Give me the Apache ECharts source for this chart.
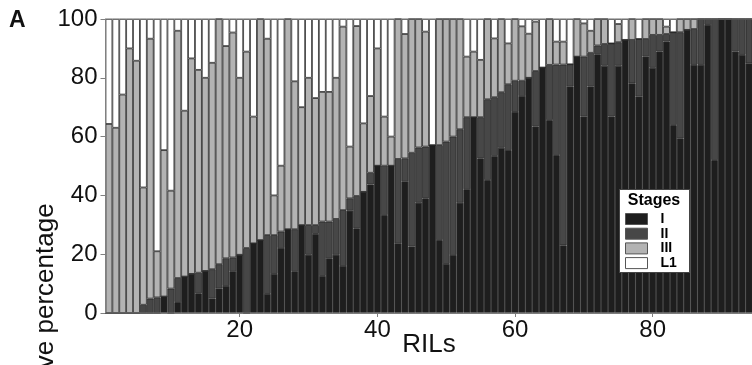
<!DOCTYPE html>
<html>
<head>
<meta charset="utf-8">
<script src="https://cdn.jsdelivr.net/npm/echarts@6/dist/echarts.min.js"></script>
<style>
html,body{margin:0;padding:0;background:#fff;}
#chart{width:752px;height:365px;}
</style>
</head>
<body>
<div id="chart"></div>
<script>
// RIL indices 1..94
const rils = Array.from({length: 94}, (_, i) => String(i + 1));
const xTickLabels = ['20', '40', '60', '80'];
const yTicks = [0, 20, 40, 60, 80, 100];
const stageNames = ['I', 'II', 'III', 'L1'];

const stageI = [
  0, 0, 0, 0, 0, 0, 0, 0, 5.6, 0,
  3.7, 12.4, 13.3, 6.7, 14.3, 4.9, 8.3, 9.2, 14.2, 19.8,
  0, 23.7, 24.8, 6.5, 13.3, 22.1, 28.5, 14.2, 29.9, 19.8,
  26.9, 12.6, 18.6, 19.8, 16.0, 34.8, 28.8, 41.2, 43.7, 50.1,
  33.3, 50.1, 23.7, 44.8, 22.6, 37.5, 39.0, 57.1, 24.8, 16.7,
  19.7, 37.5, 42.1, 66.6, 52.6, 45.2, 53.4, 56.2, 55.4, 68.4,
  73.8, 80.0, 63.4, 83.5, 65.6, 53.7, 23.0, 77.0, 87.2, 66.8,
  77.0, 88.0, 84.1, 66.8, 84.1, 92.9, 78.1, 73.6, 87.2, 83.4,
  88.9, 92.3, 63.9, 59.4, 96.3, 84.4, 84.4, 98.0, 52.0, 100,
  100, 88.9, 87.8, 84.9
];
const stageII = [
  0, 0, 0, 0, 0, 2.8, 4.9, 5.3, 0, 8.3,
  8.2, 0, 0, 7.0, 0, 10.0, 8.3, 9.4, 4.7, 0,
  22.1, 0, 0, 20.0, 13.2, 5.6, 0, 14.3, 0, 10.1,
  3.0, 18.5, 12.5, 12.2, 19.0, 4.2, 11.0, 0, 4.0, 0,
  16.8, 0, 28.7, 7.8, 31.9, 18.8, 17.6, 0, 32.3, 41.6,
  40.3, 25.0, 24.5, 0, 14.0, 27.5, 20.0, 18.9, 22.4, 10.6,
  5.2, 0, 18.9, 0, 18.8, 30.8, 61.5, 7.6, 0, 20.4,
  11.5, 3.0, 7.4, 24.9, 8.0, 0, 14.8, 19.6, 6.0, 11.2,
  5.7, 2.6, 31.6, 36.1, 0, 12.2, 15.6, 2.0, 48.0, 0,
  0, 11.1, 12.2, 15.1
];
const stageIII = [
  64.3, 63.0, 74.3, 90.0, 85.8, 39.9, 88.4, 15.7, 49.8, 33.3,
  84.1, 56.4, 73.3, 69.0, 65.7, 70.2, 83.4, 72.2, 76.5, 60.2,
  66.8, 43.1, 75.2, 66.8, 13.5, 22.4, 71.5, 50.3, 40.1, 50.1,
  43.2, 44.1, 44.1, 48.0, 62.4, 17.6, 57.8, 23.3, 26.1, 39.9,
  16.7, 9.9, 47.6, 42.3, 45.5, 43.7, 39.1, 0, 42.9, 41.7,
  40.0, 37.5, 20.6, 22.3, 19.5, 27.3, 20.0, 24.9, 13.9, 21.0,
  18.5, 15.0, 16.8, 0, 15.6, 7.8, 7.8, 0, 12.8, 11.3,
  7.5, 9.0, 8.5, 0, 6.2, 0, 7.1, 0, 6.8, 5.4,
  5.4, 2.5, 0, 4.5, 3.7, 3.4, 0, 0, 0, 0,
  0, 0, 0, 0
];
const stageL1 = [
  35.7, 37.0, 25.7, 10.0, 14.2, 57.3, 6.7, 79.0, 44.6, 58.4,
  4.0, 31.2, 13.4, 17.3, 20.0, 14.9, 0, 9.2, 4.6, 20.0,
  11.1, 33.2, 0, 6.7, 60.0, 49.9, 0, 21.2, 30.0, 20.0,
  26.9, 24.8, 24.8, 20.0, 2.6, 43.4, 2.4, 35.5, 26.2, 10.0,
  33.2, 40.0, 0, 5.1, 0, 0, 4.3, 42.9, 0, 0,
  0, 0, 12.8, 11.1, 13.9, 0, 6.6, 0, 8.3, 0,
  2.5, 5.0, 0.9, 16.5, 0, 7.7, 7.7, 15.4, 0, 1.5,
  4.0, 0, 0, 8.3, 1.7, 7.1, 0, 6.8, 0, 0,
  0, 2.6, 4.5, 0, 0, 0, 0, 0, 0, 0,
  0, 0, 0, 0
];

const colors = ['#1e1e1e', '#474747', '#b3b3b3', '#ffffff'];
const seriesData = [stageI, stageII, stageIII, stageL1];
const FONT = "'Liberation Sans', Arial, sans-serif";

const chart = echarts.init(document.getElementById('chart'), null, {renderer: 'canvas'});

const isTick = (i) => xTickLabels.indexOf(rils[i]) >= 0;

const option = {
  animation: false,
  backgroundColor: '#ffffff',
  textStyle: {fontFamily: FONT},
  grid: {left: 105.5, right: -0.5, top: 19, bottom: 52, show: true, borderColor: '#808080', borderWidth: 1, backgroundColor: 'transparent', containLabel: false, outerBoundsMode: 'none', z: 3},
  xAxis: {
    type: 'category',
    data: rils,
    boundaryGap: true,
    axisLine: {lineStyle: {color: '#808080', width: 1}},
    axisTick: {show: true, interval: isTick, alignWithLabel: true, length: 4, lineStyle: {color: '#808080'}},
    axisLabel: {interval: isTick, fontSize: 24, color: '#111', margin: 5, fontFamily: FONT},
    name: 'RILs',
    nameLocation: 'middle',
    nameGap: 19,
    nameMoveOverlap: false,
    nameTextStyle: {fontSize: 26, color: '#111', fontFamily: FONT},
    splitLine: {show: false}
  },
  yAxis: {
    type: 'value',
    min: yTicks[0],
    max: yTicks[yTicks.length - 1],
    interval: 20,
    axisLine: {show: true, lineStyle: {color: '#808080', width: 1}},
    axisTick: {show: true, length: 5, lineStyle: {color: '#808080'}},
    axisLabel: {fontSize: 24, color: '#111', margin: 8, fontFamily: FONT},
    splitLine: {show: false}
  },
  legend: {
    data: stageNames,
    orient: 'vertical',
    left: 625,
    top: 212,
    padding: 0,
    itemWidth: 22,
    itemHeight: 11,
    itemGap: 0.7,
    icon: 'rect',
    itemStyle: {borderColor: '#555', borderWidth: 1},
    textStyle: {fontSize: 14, lineHeight: 14, fontWeight: 'bold', color: '#000', fontFamily: FONT, padding: [0, 0, 0, 8]},
    z: 20
  },
  graphic: [
    {type: 'rect', z: 15, shape: {x: 619.5, y: 189.5, width: 70, height: 83}, style: {fill: '#fff', stroke: '#444', lineWidth: 1}},
    {type: 'text', z: 20, x: 654, y: 201, style: {text: 'Stages', fontSize: 16, fontWeight: 'bold', fill: '#000', textAlign: 'center', textVerticalAlign: 'middle', fontFamily: FONT}},
    {type: 'text', z: 20, x: 9, y: 21, style: {text: 'A', fontSize: 23, fontWeight: 'bold', fill: '#111', textAlign: 'left', textVerticalAlign: 'middle', fontFamily: FONT}},
    {type: 'text', z: 20, x: 46, y: 319, rotation: Math.PI / 2, style: {text: 'Relative percentage', fontSize: 26, fill: '#111', textAlign: 'center', textVerticalAlign: 'middle', fontFamily: FONT}}
  ],
  series: stageNames.map((name, k) => ({
    name: name,
    type: 'bar',
    stack: 'total',
    data: seriesData[k],
    barCategoryGap: 0,
    barWidth: '100%',
    itemStyle: {color: colors[k], borderColor: '#262626', borderWidth: 0.8},
    emphasis: {disabled: true}
  }))
};
chart.setOption(option);
</script>
</body>
</html>
